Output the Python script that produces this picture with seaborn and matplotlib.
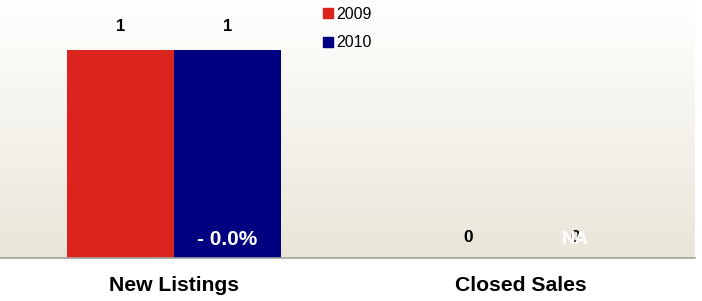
import numpy as np
import pandas as pd
import matplotlib
matplotlib.use("Agg")
import matplotlib.pyplot as plt
from matplotlib.lines import Line2D
import seaborn as sns

categories = ["New Listings", "Closed Sales"]
years = ["2009", "2010"]
values_2009 = [1, 0]
values_2010 = [1, 0]
change_labels = ["- 0.0%", "NA"]
colors = ["#DC241F", "#000080"]

sns.set_theme(style="white")
plt.rcParams["font.family"] = ["Liberation Sans", "DejaVu Sans"]
plt.rcParams["text.color"] = "black"

df = pd.DataFrame({
    "category": categories * 2,
    "year": [years[0]] * 2 + [years[1]] * 2,
    "value": values_2009 + values_2010,
})

fig = plt.figure(figsize=(7.02, 3.01), dpi=100)
ax = fig.add_axes([0.0, 43 / 301, 695 / 702, 258 / 301])

sns.barplot(data=df, x="category", y="value", hue="year", palette=colors,
            width=0.616, ax=ax, legend=False, saturation=1, linewidth=0,
            zorder=2)

ymax = 258 / 208
# gradient background
grad = np.linspace(0, 1, 256).reshape(-1, 1)
top = np.array([255, 255, 255]) / 255
bot = np.array([233, 230, 216]) / 255
img = top[None, None, :] * (1 - grad[:, :, None]) + bot[None, None, :] * grad[:, :, None]
ax.imshow(img, extent=[-0.5, 1.5, 0, ymax], aspect="auto", zorder=0, origin="upper")
ax.set_xlim(-0.5, 1.5)
ax.set_ylim(0, ymax)

# value labels
for i, cont in enumerate(ax.containers):
    for j, bar in enumerate(cont):
        v = bar.get_height()
        cx = bar.get_x() + bar.get_width() / 2
        if v > 0:
            ax.annotate(f"{v:g}", (cx, v), xytext=(0, 11.5), textcoords="offset points",
                        ha="center", va="bottom", fontsize=12, fontweight="bold",
                        color="black", zorder=5)
        else:
            ax.annotate(f"{v:g}", (cx, 0), xytext=(0, 15), textcoords="offset points",
                        ha="center", va="center", fontsize=12.5, fontweight="bold",
                        color="black", zorder=5)

# change labels on 2010 bars
cont2010 = ax.containers[1]
for j, bar in enumerate(cont2010):
    cx = bar.get_x() + bar.get_width() / 2
    fs = 15 if j == 0 else 13.5
    ax.annotate(change_labels[j], (cx, 0), xytext=(0, 13.5), textcoords="offset points",
                ha="center", va="center", fontsize=fs, fontweight="bold",
                color="white", zorder=6)

for s in ["top", "right", "left"]:
    ax.spines[s].set_visible(False)
ax.spines["bottom"].set_color("#A0A0A0")
ax.spines["bottom"].set_linewidth(1.2)
ax.set_yticks([])
ax.set_xlabel("")
ax.set_ylabel("")
ax.set_xticks([0, 1])
ax.set_xticklabels(categories, fontsize=15.2, fontweight="bold", color="black")
ax.tick_params(axis="x", which="major", length=0, pad=13)
ax.set_xticks([-0.5, 0.5, 1.5], minor=True)
ax.tick_params(axis="x", which="minor", length=5, color="#A0A0A0", width=1.2, direction="out")

handles = [Line2D([], [], marker="s", linestyle="none", markersize=6.5,
                  markerfacecolor=c, markeredgecolor=c) for c in colors]
fig.legend(handles, years, loc="upper left", bbox_to_anchor=(322 / 702, 1 - 5 / 301),
           frameon=False, fontsize=11.5, handlelength=0.6, handletextpad=0.2,
           labelspacing=0.85, borderpad=0.1, borderaxespad=0, labelcolor="black")

fig.savefig("out.png", dpi=100)
